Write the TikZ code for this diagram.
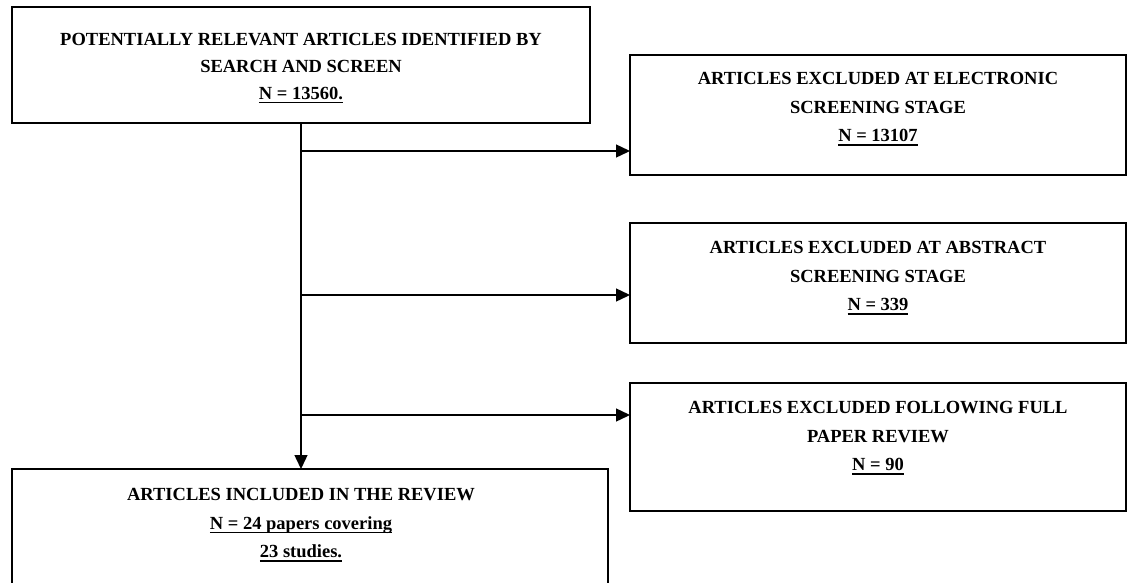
\documentclass[tikz,border=0pt]{standalone}
\usepackage{fontspec}
\setmainfont{Liberation Serif}
\usetikzlibrary{arrows.meta,calc}
\newcommand\ulx[1]{\setbox0\hbox{#1}\rlap{\rule[-3.8pt]{\wd0}{1.5pt}}\box0}
\begin{document}
\begin{tikzpicture}[x=1pt,y=-1pt,
  box/.style={draw=black,line width=1.6pt,anchor=north west,inner sep=0pt,outer sep=0pt},
  lbl/.style={anchor=north,align=center,inner sep=0pt,font=\bfseries\fontsize{18.5}{28.5}\selectfont},
  arr/.style={line width=1.4pt,-{Triangle[length=14pt,width=13pt]}},
  ln/.style={line width=1.4pt}]
\useasboundingbox (0,0) rectangle (1136,582);
% boxes
\node[box,minimum width=578pt,minimum height=116pt] (top) at (12,7) {};
\node[box,minimum width=496pt,minimum height=120pt] (b2) at (630,55) {};
\node[box,minimum width=496pt,minimum height=120pt] (b3) at (630,223) {};
\node[box,minimum width=496pt,minimum height=128pt] (b4) at (630,383) {};
\node[box,minimum width=596pt,minimum height=150pt] (bot) at (12,469) {};
% labels
\node[lbl,font=\bfseries\fontsize{18.5}{27}\selectfont] (ttop) at ([yshift=-26pt]top.north) {POTENTIALLY RELEVANT ARTICLES IDENTIFIED BY\\SEARCH AND SCREEN\\\ulx{N = 13560.}};
\node[lbl] (t2) at ([yshift=-17.5pt]b2.north) {ARTICLES EXCLUDED AT ELECTRONIC\\SCREENING STAGE\\\ulx{N = 13107}};
\node[lbl] (t3) at ([yshift=-18.5pt]b3.north) {ARTICLES EXCLUDED AT ABSTRACT\\SCREENING STAGE\\\ulx{N = 339}};
\node[lbl] (t4) at ([yshift=-18.5pt]b4.north) {ARTICLES EXCLUDED FOLLOWING FULL\\PAPER REVIEW\\\ulx{N = 90}};
\node[lbl] (tbot) at ([yshift=-19.5pt]top.south |- bot.north) {ARTICLES INCLUDED IN THE REVIEW\\\ulx{N = 24 papers covering}\\\ulx{23 studies.}};
% connectors
\coordinate (j1) at (top.south |- 0,151);
\coordinate (j2) at (top.south |- 0,295);
\coordinate (j3) at (top.south |- 0,415);
\draw[arr] (top.south) -- (top.south |- bot.north);
\draw[arr] (j1) -- (j1 -| b2.west);
\draw[arr] (j2) -- (j2 -| b3.west);
\draw[arr] (j3) -- (j3 -| b4.west);
\end{tikzpicture}
\end{document}
